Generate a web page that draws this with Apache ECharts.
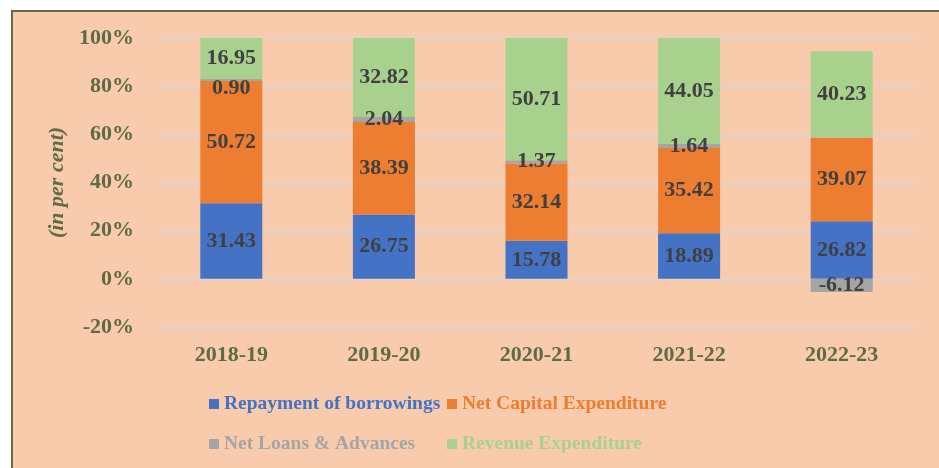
<!DOCTYPE html>
<html>
<head>
<meta charset="utf-8">
<script src="https://cdn.jsdelivr.net/npm/echarts@6/dist/echarts.min.js"></script>
<style>
html,body{margin:0;padding:0;background:#ffffff;}
#frame{position:absolute;left:11px;top:10px;width:940px;height:470px;background:#F8CBAD;border:2px solid #5F6B45;box-sizing:border-box;}
#chart{position:absolute;left:0;top:0;width:939px;height:468px;}
</style>
</head>
<body>
<div id="frame"></div>
<div id="chart"></div>
<script>
const categories = ['2018-19', '2019-20', '2020-21', '2021-22', '2022-23'];
const repayment = [31.43, 26.75, 15.78, 18.89, 26.82];
const netCapital = [50.72, 38.39, 32.14, 35.42, 39.07];
const netLoans = [0.90, 2.04, 1.37, 1.64, -6.12];
const revenue = [16.95, 32.82, 50.71, 44.05, 40.23];
const yTicks = [-20, 0, 20, 40, 60, 80, 100];

const seriesDefs = [
  { name: 'Repayment of borrowings', values: repayment, color: '#4472C4' },
  { name: 'Net Capital Expenditure', values: netCapital, color: '#ED7D31' },
  { name: 'Net Loans & Advances', values: netLoans, color: '#A5A5A5' },
  { name: 'Revenue Expenditure', values: revenue, color: '#A9D18E' }
];

// Excel 100% stacked: share of sum of absolute values
const totals = categories.map((c, i) =>
  seriesDefs.reduce((s, d) => s + Math.abs(d.values[i]), 0));

const font = 'Liberation Serif, Times New Roman, serif';
const olive = '#5F6B45';

const series = seriesDefs.map((d, si) => ({
  name: d.name,
  type: 'bar',
  stack: 'total',
  barWidth: 62,
  itemStyle: { color: d.color },
  label: {
    show: true,
    position: 'inside',
    color: '#404040',
    fontFamily: font,
    fontWeight: 'bold',
    fontSize: 22,
    formatter: p => d.values[p.dataIndex].toFixed(2)
  },
  data: d.values.map((v, i) => {
    const item = { value: v / totals[i] * 100 };
    if (si === 2 && i === 0) item.label = { offset: [0, 8] };
    return item;
  })
}));

const legendLefts = [209, 447, 209, 447];
const legendTops = [394, 394, 434, 434];
const legends = seriesDefs.map((d, i) => ({
  left: legendLefts[i],
  top: legendTops[i],
  padding: 0,
  itemWidth: 10,
  itemHeight: 10,
  itemGap: 0,
  icon: 'rect',
  selectedMode: false,
  textStyle: { color: d.color, fontFamily: font, fontWeight: 'bold', fontSize: 19.5 },
  data: [d.name]
}));

const chart = echarts.init(document.getElementById('chart'));
chart.setOption({
  backgroundColor: 'transparent',
  animation: false,
  legend: legends,
  grid: { left: 155, right: 21, top: 38, bottom: 141 },
  xAxis: {
    type: 'category',
    data: categories,
    axisLine: { show: false },
    axisTick: { show: false },
    axisLabel: { color: olive, fontFamily: font, fontWeight: 'bold', fontSize: 22, margin: 17 }
  },
  yAxis: {
    type: 'value',
    min: yTicks[0],
    max: yTicks[yTicks.length - 1],
    interval: 20,
    name: '(in per cent)',
    nameLocation: 'middle',
    nameGap: 84,
    nameTextStyle: { color: olive, fontFamily: font, fontWeight: 'bold', fontStyle: 'italic', fontSize: 22 },
    axisLine: { show: false },
    axisTick: { show: false },
    axisLabel: { color: olive, fontFamily: font, fontWeight: 'bold', fontSize: 22, margin: 21, formatter: '{value}%' },
    splitLine: { lineStyle: { color: '#D9D9D9', width: 1.5 } }
  },
  series: series
});
</script>
</body>
</html>
